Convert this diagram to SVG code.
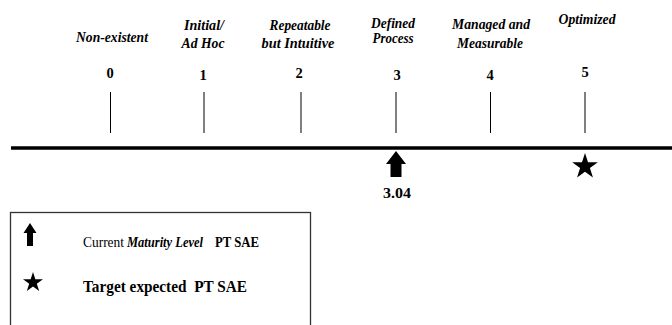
<svg xmlns="http://www.w3.org/2000/svg" width="672" height="325" viewBox="0 0 672 325">
<style>
text{font-family:'Liberation Serif','Times New Roman',Times,serif}
.lbl{font-size:15px;font-weight:bold;font-style:italic;fill:#000;text-anchor:middle}
.num{font-size:14.5px;font-weight:bold;fill:#000;text-anchor:middle}
.tick{stroke:#000;stroke-width:1}
.leg{fill:#000}
</style>
<defs>
<path id="star" d="M0,-10 L2.245,-3.09 L9.511,-3.09 L3.633,1.18 L5.878,8.09 L0,3.82 L-5.878,8.09 L-3.633,1.18 L-9.511,-3.09 L-2.245,-3.09 Z" fill="#000"/>
</defs>
<rect width="672" height="325" fill="#fff"/>
<g id="connectors">
<line x1="11" y1="148" x2="672" y2="148" stroke="#000" stroke-width="3.5"/>
<line class="tick" x1="110.5" y1="92" x2="110.5" y2="133"/>
<line class="tick" x1="204" y1="92" x2="204" y2="133"/>
<line class="tick" x1="301" y1="92" x2="301" y2="133"/>
<line class="tick" x1="396" y1="92" x2="396" y2="133"/>
<line class="tick" x1="490.5" y1="92" x2="490.5" y2="133"/>
<line class="tick" x1="585" y1="92" x2="585" y2="133"/>
</g>
<g id="level0">
<text class="lbl" x="112" y="42" textLength="72" lengthAdjust="spacingAndGlyphs">Non-existent</text>
<text class="num" x="110" y="78">0</text>
</g>
<g id="level1">
<text class="lbl" x="204" y="30" textLength="40" lengthAdjust="spacingAndGlyphs">Initial/</text>
<text class="lbl" x="203" y="48" textLength="43" lengthAdjust="spacingAndGlyphs">Ad Hoc</text>
<text class="num" x="203" y="80">1</text>
</g>
<g id="level2">
<text class="lbl" x="300" y="30" textLength="61" lengthAdjust="spacingAndGlyphs">Repeatable</text>
<text class="lbl" x="298" y="48" textLength="73" lengthAdjust="spacingAndGlyphs">but Intuitive</text>
<text class="num" x="299" y="78">2</text>
</g>
<g id="level3">
<text class="lbl" x="393" y="28" textLength="44" lengthAdjust="spacingAndGlyphs">Defined</text>
<text class="lbl" x="393" y="43" textLength="41" lengthAdjust="spacingAndGlyphs">Process</text>
<text class="num" x="397" y="80">3</text>
</g>
<g id="level4">
<text class="lbl" x="491" y="29" textLength="78" lengthAdjust="spacingAndGlyphs">Managed and</text>
<text class="lbl" x="490" y="48" textLength="66" lengthAdjust="spacingAndGlyphs">Measurable</text>
<text class="num" x="490" y="80">4</text>
</g>
<g id="level5">
<text class="lbl" x="587" y="24" textLength="57" lengthAdjust="spacingAndGlyphs">Optimized</text>
<text class="num" x="585" y="77">5</text>
</g>
<g id="current">
<polygon points="396,151 406,164 401.5,164 401.5,177 390.5,177 390.5,164 386,164" fill="#000"/>
<text class="num" x="397" y="198" textLength="28" lengthAdjust="spacingAndGlyphs">3.04</text>
</g>
<g id="target">
<use href="#star" transform="translate(585,166.5) scale(1.35)"/>
</g>
<g id="legend">
<rect x="10.5" y="212.5" width="300" height="120" fill="none" stroke="#333" stroke-width="1.3"/>
<polygon points="30,223 36.5,233 33,233 33,246 27,246 27,233 23.5,233" fill="#000"/>
<text class="leg" x="83" y="247" font-size="15" textLength="41" lengthAdjust="spacingAndGlyphs">Current</text>
<text class="leg" x="127" y="247" font-size="15" font-style="italic" font-weight="bold" textLength="76" lengthAdjust="spacingAndGlyphs">Maturity Level</text>
<text class="leg" x="215" y="247" font-size="15" font-weight="bold" textLength="44" lengthAdjust="spacingAndGlyphs">PT SAE</text>
<use href="#star" transform="translate(33,282.5) scale(1.05)"/>
<text class="leg" x="83" y="292" font-size="16.5" font-weight="bold" xml:space="preserve" textLength="164" lengthAdjust="spacingAndGlyphs">Target expected  PT SAE</text>
</g>
</svg>
